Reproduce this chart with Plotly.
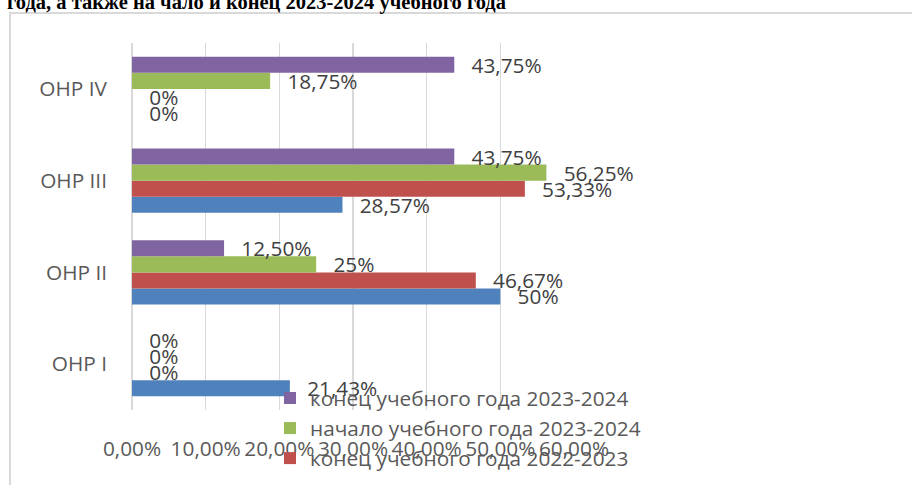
import plotly.graph_objects as go

# ---- data ----
categories = ["ОНР I", "ОНР II", "ОНР III", "ОНР IV"]
series_names = [
    "начало учебного года 2022-2023",
    "конец учебного года 2022-2023",
    "начало учебного года 2023-2024",
    "конец учебного года 2023-2024",
]
start_2022_2023 = [21.43, 50.00, 28.57, 0.00]
end_2022_2023 = [0.00, 46.67, 53.33, 0.00]
start_2023_2024 = [0.00, 25.00, 56.25, 18.75]
end_2023_2024 = [0.00, 12.50, 43.75, 43.75]
x_ticks = [0, 10, 20, 30, 40, 50, 60]
title_text = "года, а также на чало и конец 2023-2024 учебного года"

series_values = [start_2022_2023, end_2022_2023, start_2023_2024, end_2023_2024]
colors = ["#4F81BD", "#C0504D", "#9BBB59", "#8064A2"]
# the reference legend is cut off by the picture edge before its last entry
in_legend = [False, True, True, True]

FONT = "Open Sans"
FS = 20.8

# plot area in pixels
W, H = 912, 485
L, R, T, B = 132, 574, 43, 410
pw, ph = R - L, B - T


def px_x(p):
    return (p - L) / pw


def px_y(p):
    return (B - p) / ph


def fmt(v):
    if abs(v - round(v)) < 1e-9:
        return f"{int(round(v))}%"
    return f"{v:.2f}".replace(".", ",") + "%"


fig = go.Figure()
for name, vals, col, show in zip(series_names, series_values, colors, in_legend):
    fig.add_trace(go.Bar(
        y=categories, x=vals, name=name, orientation="h",
        showlegend=show,
        marker=dict(color=col, line=dict(width=0)),
        text=["\u00a0\u00a0\u2009" + fmt(v) for v in vals],
        textposition="outside",
        textfont=dict(family=FONT, size=FS, color="#404040"),
        constraintext="none",
        cliponaxis=False,
        hoverinfo="skip",
    ))

fig.update_layout(
    width=W, height=H,
    margin=dict(l=L, r=W - R, t=T, b=H - B, autoexpand=False),
    paper_bgcolor="white", plot_bgcolor="white",
    barmode="group", bargap=0.30, bargroupgap=0,
    font=dict(family=FONT, size=FS, color="#595959"),
    showlegend=True,
    legend=dict(
        x=px_x(270), y=px_y(378), xanchor="left", yanchor="top",
        xref="paper", yref="paper",
        traceorder="reversed",
        bgcolor="rgba(0,0,0,0)",
        font=dict(family=FONT, size=FS, color="#595959"),
        maxheight=400,
    ),
    xaxis=dict(
        range=[0, 60], tickvals=x_ticks,
        ticktext=[f"{t:.2f}".replace(".", ",") + "%" for t in x_ticks],
        showgrid=True, gridcolor="#d9d9d9", gridwidth=1.5,
        zeroline=True, zerolinecolor="#d9d9d9", zerolinewidth=1.5,
        showline=False, ticks="", ticklabelstandoff=24,
        tickfont=dict(family=FONT, size=FS, color="#595959"),
        fixedrange=True,
    ),
    yaxis=dict(
        showgrid=False, zeroline=False, showline=False, ticks="",
        ticklabelstandoff=24,
        tickfont=dict(family=FONT, size=FS, color="#595959"),
        fixedrange=True,
    ),
    shapes=[dict(
        type="rect", xref="paper", yref="paper",
        x0=px_x(10), x1=px_x(1000), y0=px_y(600), y1=px_y(13),
        line=dict(color="#d9d9d9", width=2), fillcolor="rgba(0,0,0,0)",
        layer="below",
    )],
    annotations=[dict(
        text=f"<b>{title_text}</b>", xref="paper", yref="paper",
        x=px_x(5), y=px_y(16), xanchor="left", yanchor="bottom",
        showarrow=False,
        font=dict(family="Liberation Serif", size=20.5, color="black"),
    )],
)

fig.write_html(
    "out.html",
    config={"displayModeBar": False, "staticPlot": True},
    post_script="document.body.style.margin='0';document.body.style.overflow='hidden';",
)
